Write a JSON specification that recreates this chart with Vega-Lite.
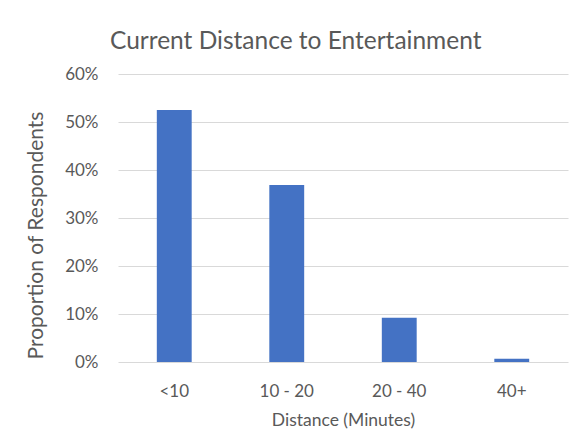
{
  "$schema": "https://vega.github.io/schema/vega-lite/v6.json",
  "autosize": "none",
  "width": 450,
  "height": 288,
  "padding": {"left": 118, "top": 74, "right": 9, "bottom": 83},
  "background": "white",
  "title": {
    "text": "Current Distance to Entertainment",
    "anchor": "start",
    "frame": "group",
    "dx": -8,
    "offset": 11,
    "font": "Lato",
    "fontSize": 24.5,
    "fontWeight": "normal",
    "color": "#595959"
  },
  "data": {
    "values": [
      {"distance": "<10", "proportion": 0.525},
      {"distance": "10 - 20", "proportion": 0.369},
      {"distance": "20 - 40", "proportion": 0.092},
      {"distance": "40+", "proportion": 0.007}
    ]
  },
  "mark": {"type": "bar", "color": "#4472C4"},
  "encoding": {
    "x": {
      "field": "distance",
      "type": "nominal",
      "sort": null,
      "scale": {"paddingInner": 0.69, "paddingOuter": 0.345},
      "axis": {
        "title": "Distance (Minutes)",
        "labelAngle": 0,
        "domain": false,
        "ticks": false,
        "labelPadding": 21,
        "titlePadding": 12
      }
    },
    "y": {
      "field": "proportion",
      "type": "quantitative",
      "scale": {"domain": [0, 0.6]},
      "axis": {
        "title": "Proportion of Respondents",
        "titleFontSize": 21,
        "titleY": 161,
        "format": ".0%",
        "values": [0, 0.1, 0.2, 0.3, 0.4, 0.5, 0.6],
        "domain": false,
        "ticks": false,
        "labelPadding": 20,
        "titlePadding": 18
      }
    }
  },
  "config": {
    "view": {"stroke": null},
    "axis": {
      "labelFont": "Lato",
      "titleFont": "Lato",
      "labelFontSize": 17,
      "titleFontSize": 17.5,
      "titleFontWeight": "normal",
      "labelColor": "#595959",
      "titleColor": "#595959",
      "gridColor": "#d9d9d9",
      "gridWidth": 1
    }
  }
}
